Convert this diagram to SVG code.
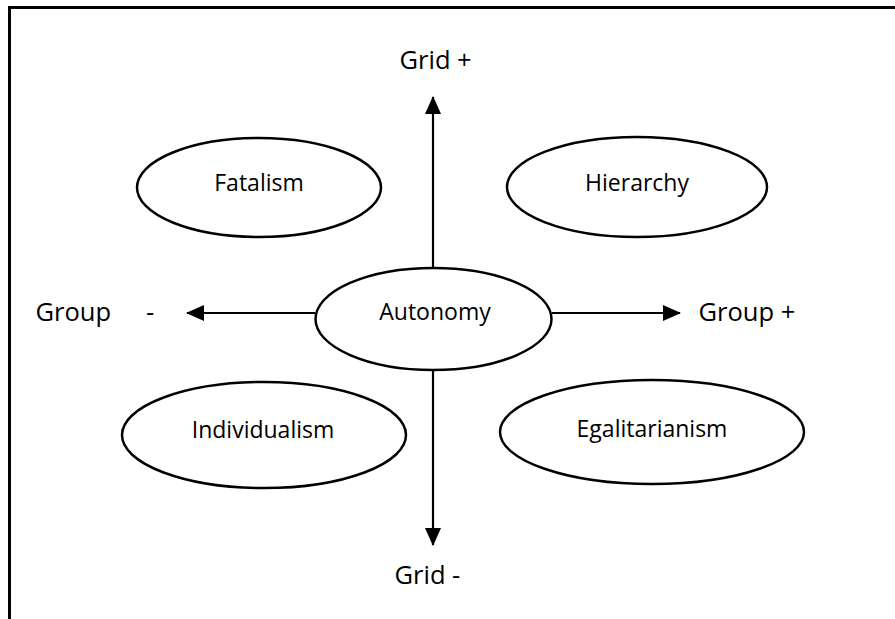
<svg xmlns="http://www.w3.org/2000/svg" width="895" height="619" viewBox="0 0 895 619">
<defs>
<style>
.e{fill:#fff;stroke:#000;stroke-width:2.5}
.t{font-family:"Open Sans","Liberation Sans",sans-serif;font-size:23px;fill:#000;text-anchor:middle}
.s{font-family:"Open Sans","Liberation Sans",sans-serif;font-size:25.5px;fill:#000;white-space:pre}
.l{stroke:#000;stroke-width:2.2;fill:none}
</style>
<marker id="ah" viewBox="0 0 18 16" refX="17" refY="8" markerWidth="18" markerHeight="16" markerUnits="userSpaceOnUse" orient="auto">
<path d="M0,0 L18,8 L0,16 Z" fill="#000"/>
</marker>
</defs>
<rect width="895" height="619" fill="#fff"/>
<g id="frame">
<path d="M9.5,619 V7.5 H895" fill="none" stroke="#000" stroke-width="3"/>
</g>
<g id="connectors">
<line class="l" x1="433" y1="268" x2="433" y2="97" marker-end="url(#ah)"/>
<line class="l" x1="433" y1="370" x2="433" y2="545" marker-end="url(#ah)"/>
<line class="l" x1="315" y1="313" x2="187" y2="313" marker-end="url(#ah)"/>
<line class="l" x1="552" y1="313" x2="680" y2="313" marker-end="url(#ah)"/>
</g>
<g id="grid-plus"><text class="s" x="399.5" y="69">Grid +</text></g>
<g id="grid-minus"><text class="s" x="394.5" y="584">Grid -</text></g>
<g id="group-minus"><text class="s" x="35.5" y="321">Group<tspan x="139.5"> -</tspan></text></g>
<g id="group-plus"><text class="s" x="698.5" y="321">Group +</text></g>
<g id="autonomy"><ellipse class="e" cx="433.5" cy="319" rx="118" ry="51"/><text class="t" x="435" y="320">Autonomy</text></g>
<g id="fatalism"><ellipse class="e" cx="259" cy="187.5" rx="122" ry="49.5"/><text class="t" x="259" y="191">Fatalism</text></g>
<g id="hierarchy"><ellipse class="e" cx="637" cy="187" rx="130" ry="50"/><text class="t" x="637" y="191">Hierarchy</text></g>
<g id="individualism"><ellipse class="e" cx="264" cy="435" rx="142" ry="53"/><text class="t" x="263" y="438">Individualism</text></g>
<g id="egalitarianism"><ellipse class="e" cx="652" cy="432" rx="152" ry="52"/><text class="t" x="652" y="437">Egalitarianism</text></g>
</svg>
